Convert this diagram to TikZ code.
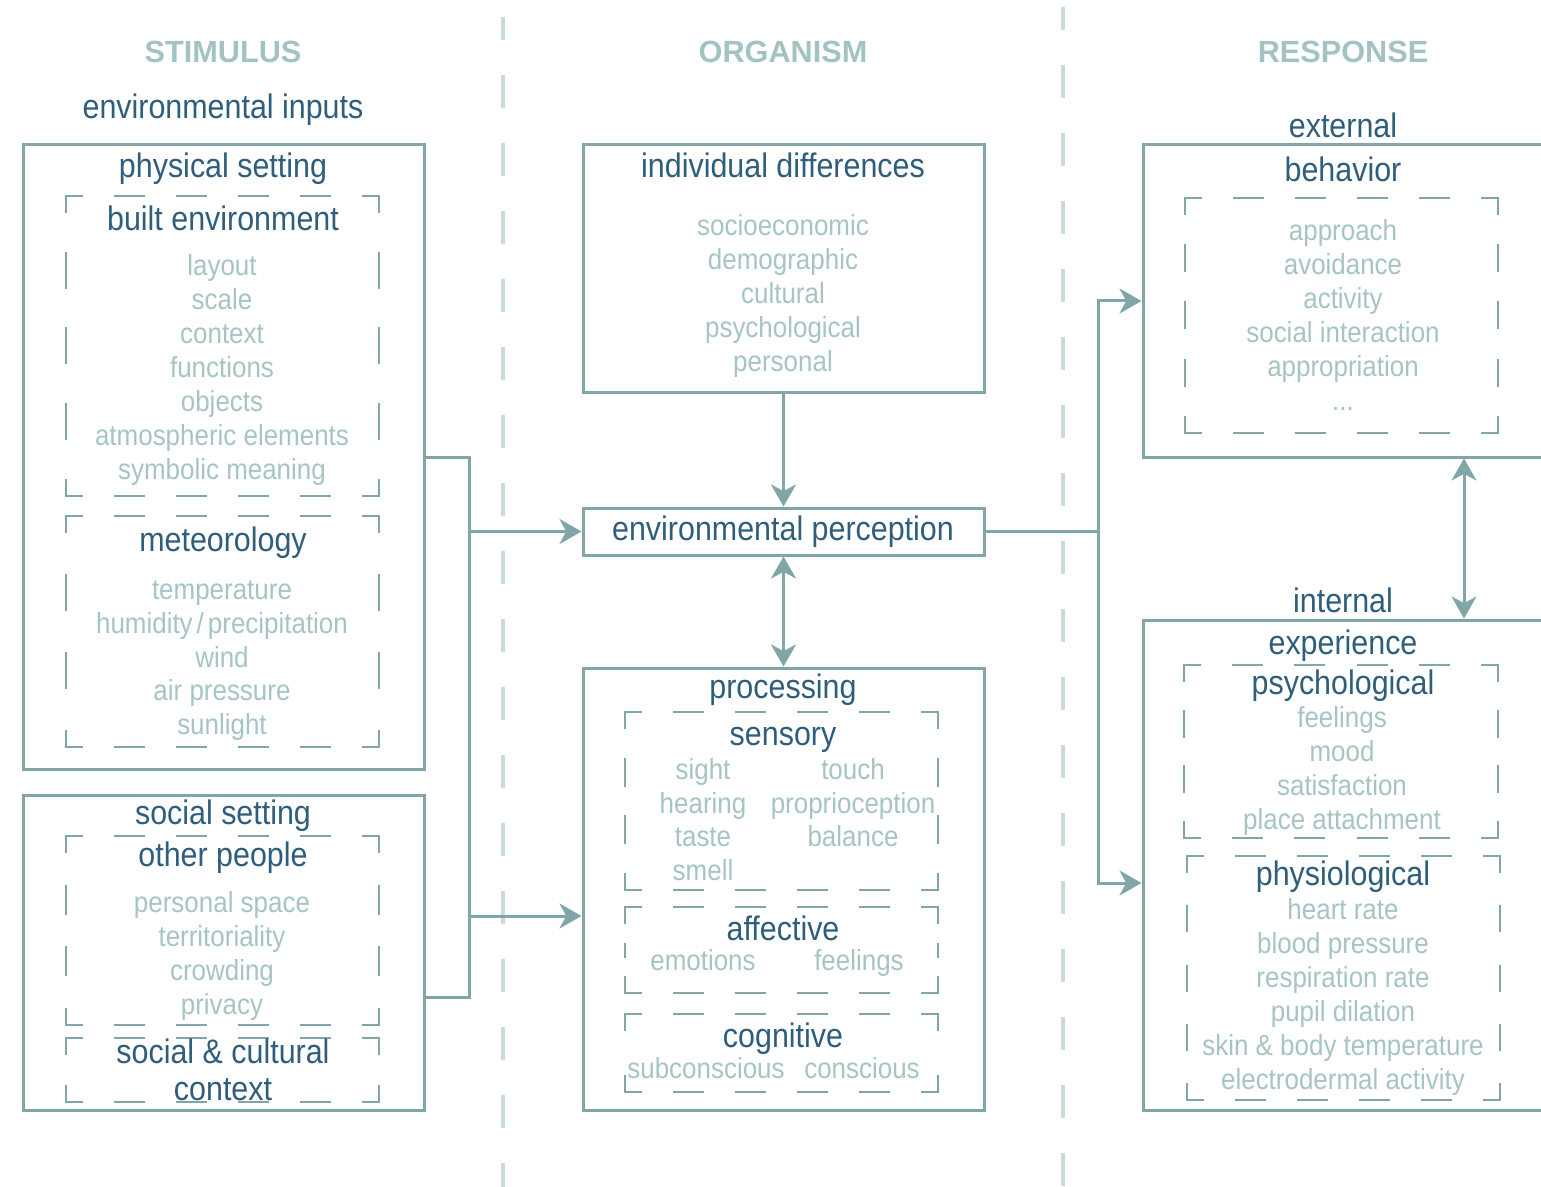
\documentclass[tikz,border=0pt]{standalone}
\usepackage{fontspec}
\setmainfont{Liberation Sans}[FakeStretch=0.895]
\newfontfamily\hdrfont{Liberation Sans}
\usetikzlibrary{arrows.meta,fit}
\definecolor{dkc}{RGB}{46,94,124}
\definecolor{ltc}{RGB}{166,196,196}
\definecolor{bxc}{RGB}{128,166,168}
\definecolor{dvc}{RGB}{200,218,218}
\definecolor{hdc}{RGB}{163,194,194}
\tikzset{
  box/.style={draw=bxc, line width=2.25pt, inner sep=0pt},
  dl/.style={draw=bxc, line width=1.5pt},
  ln/.style={draw=bxc, line width=2.25pt},
  arr/.style={ln, -{Stealth[length=16.5pt,width=18.75pt,inset=5pt]}},
  arrtwo/.style={ln, {Stealth[length=16.5pt,width=18.75pt,inset=5pt]}-{Stealth[length=16.5pt,width=18.75pt,inset=5pt]}},
  dvd/.style={draw=dvc, line width=3pt, dash pattern=on 25pt off 26pt, dash phase=7.5pt},
  hdt/.style={text=hdc, font=\hdrfont\bfseries\fontsize{23}{27}\selectfont, inner sep=0pt, text height=16.5pt, text depth=0pt},
  dkt/.style={text=dkc, font=\fontsize{25.5}{30}\selectfont, inner sep=0pt, text height=18.4pt, text depth=5.1pt, yshift=-2.25pt},
  ltt/.style={text=ltc, font=\fontsize{21.75}{26}\selectfont, inner sep=0pt, text height=15.7pt, text depth=4.35pt, yshift=-2.25pt}
}
% dashed box: x1,y1,x2,y2, nh, dh, nv, dv
\newcommand\dbox[8]{%
  \draw[dl] (#1,#2+17) -- (#1,#2) -- (#1+17,#2);
  \draw[dl] (#3-17,#2) -- (#3,#2) -- (#3,#2+17);
  \draw[dl] (#1,#4-17) -- (#1,#4) -- (#1+17,#4);
  \draw[dl] (#3-17,#4) -- (#3,#4) -- (#3,#4-17);
  \pgfmathsetmacro\ghx{(#3-#1-34-#5*#6)/(#5+1)}%
  \pgfmathsetmacro\ghp{\ghx*0.75}%
  \pgfmathsetmacro\dhp{#6*0.75}%
  \draw[dl,dash pattern=on \dhp pt off \ghp pt] (#1+17+\ghx,#2) -- (#3-17-\ghx,#2);
  \draw[dl,dash pattern=on \dhp pt off \ghp pt] (#1+17+\ghx,#4) -- (#3-17-\ghx,#4);
  \ifnum#7>0
    \pgfmathsetmacro\gvx{(#4-#2-34-#7*#8)/(#7+1)}%
    \pgfmathsetmacro\gvp{\gvx*0.75}%
    \pgfmathsetmacro\dvp{#8*0.75}%
    \draw[dl,dash pattern=on \dvp pt off \gvp pt] (#1,#2+17+\gvx) -- (#1,#4-17-\gvx);
    \draw[dl,dash pattern=on \dvp pt off \gvp pt] (#3,#2+17+\gvx) -- (#3,#4-17-\gvx);
  \fi
}
% list of light items: name, x, y0, step, list
\newcommand\items[5]{%
  \foreach \t [count=\i from 0] in {#5} {\node[ltt] (#1\i) at (#2,#3+#4*\i) {\t};}
}
\begin{document}
\begin{tikzpicture}[x=0.75pt,y=-0.75pt]
\useasboundingbox (0,0) rectangle (1541,1187);
% dividers
\draw[dvd] (503,17) -- (503,1187);
\draw[dvd] (1063,7) -- (1063,1187);
% headers
\node[hdt] (hs) at (223,52) {STIMULUS};
\node[hdt] (ho) at (783,52) {ORGANISM};
\node[hdt] (hr) at (1343,52) {RESPONSE};
% ---------------- left column
\node[dkt] (envin) at (223,107) {environmental inputs};
\node[box, fit={(23,145) (424,769)}] (phys) {};
\node[dkt] (physt) at (223,166) {physical setting};
\dbox{66}{196}{379}{496}{4}{31}{3}{37}
\node[dkt] (built) at (223,219) {built environment};
\items{be}{222}{265}{34}{layout,scale,context,functions,objects,atmospheric elements,symbolic meaning}
\dbox{66}{516}{379}{747}{4}{31}{2}{37}
\node[dkt] (meteo) at (223,540) {meteorology};
\items{me}{222}{589}{33.8}{temperature,{humidity\kern3pt/\kern3pt precipitation},wind,air pressure,sunlight}
\node[box, fit={(23,795) (424,1110)}] (soc) {};
\node[dkt] (soct) at (223,813) {social setting};
\dbox{66}{836}{379}{1025}{4}{31}{2}{30}
\node[dkt] (other) at (223,855) {other people};
\items{op}{222}{902}{34}{personal space,territoriality,crowding,privacy}
\dbox{66}{1038}{379}{1102}{4}{31}{0}{0}
\node[dkt] (scc1) at (223,1052) {social \& cultural};
\node[dkt] (scc2) at (223,1089) {context};
% ---------------- middle column
\node[box, fit={(583,145) (984,392)}] (indiv) {};
\node[dkt] (indivt) at (783,166) {individual differences};
\items{id}{783}{225}{34}{socioeconomic,demographic,cultural,psychological,personal}
\node[box, fit={(583,508) (984,555)}] (perc) {};
\node[dkt] (perct) at (783,529) {environmental perception};
\node[box, fit={(583,668) (984,1110)}] (proc) {};
\node[dkt] (proct) at (783,687) {processing};
\dbox{625}{712}{938}{890}{4}{31}{2}{29}
\node[dkt] (sens) at (783,734) {sensory};
\items{sa}{703}{769}{33.7}{sight,hearing,taste,smell}
\items{sb}{853}{769}{33.7}{touch,proprioception,balance}
\dbox{625}{907}{938}{993}{4}{31}{1}{15}
\node[dkt] (aff) at (783,929) {affective};
\node[ltt] (emo) at (703,960) {emotions};
\node[ltt] (feel) at (859,960) {feelings};
\dbox{625}{1014}{938}{1092}{4}{31}{0}{0}
\node[dkt] (cog) at (783,1036) {cognitive};
\node[ltt] (subc) at (706,1068) {subconscious};
\node[ltt] (conc) at (862,1068) {conscious};
% ---------------- right column
\node[dkt] (ext) at (1343,126) {external};
\node[box, fit={(1143,145) (1570,457)}] (beh) {};
\node[dkt] (beht) at (1343,170) {behavior};
\dbox{1185}{198}{1498}{433}{4}{31}{3}{28}
\items{bh}{1343}{230}{34}{approach,avoidance,activity,social interaction,appropriation}
\node[ltt] (bhdots) at (1343,400) {...};
\node[dkt] (int) at (1343,601) {internal};
\node[box, fit={(1143,620) (1570,1110)}] (exp) {};
\node[dkt] (expt) at (1343,643) {experience};
\dbox{1184}{665}{1498}{838}{4}{31}{2}{28}
\node[dkt] (psy) at (1343,683) {psychological};
\items{ps}{1342}{717}{34}{feelings,mood,satisfaction,place attachment}
\dbox{1187}{856}{1500}{1100}{4}{31}{3}{27}
\node[dkt] (phy) at (1343,874) {physiological};
\items{py}{1343}{909}{34}{heart rate,blood pressure,respiration rate,pupil dilation,skin \& body temperature,electrodermal activity}
% ---------------- connectors
\coordinate (jl) at (469,531.5);
\coordinate (jr) at (1098,531.5);
\draw[ln] (phys.east) -- (469,457) -- (469,997) -- (soc.east |- 0,997);
\draw[arr] (jl) -- (perc.west);
\draw[arr] (469,916) -- (proc.west |- 0,916);
\draw[arr] (indiv.south) -- (perc.north);
\draw[arrtwo] (perc.south) -- (proc.north);
\draw[ln] (perc.east) -- (jr);
\draw[arr] (jr) |- (beh.west);
\draw[arr] (jr) |- (exp.west |- 0,883);
\draw[arrtwo] (beh.south -| 1464,0) -- (exp.north -| 1464,0);
\end{tikzpicture}
\end{document}
